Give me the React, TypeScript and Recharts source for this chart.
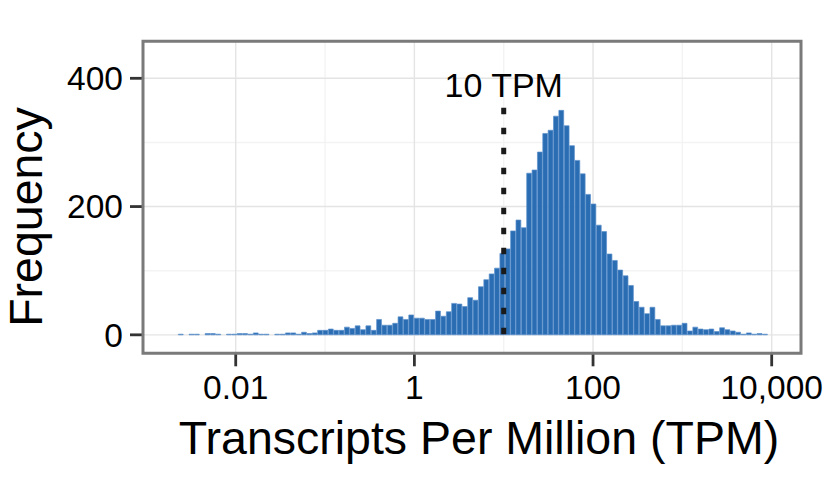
import { ComposedChart, Bar, XAxis, YAxis, CartesianGrid, ReferenceLine, ReferenceArea, Label } from 'recharts'

// histogram of log10(TPM); bins are 0.06 decades wide
const binStart = -2.6425
const binWidth = 0.06

const counts = [
  1, 0, 1, 1, 0, 2, 2, 1, 0, 1, 1, 2, 2, 1, 3, 1, 1, 0, 1, 1, 3,
  3, 1, 4, 2, 3, 7, 7, 9, 7, 7, 12, 10, 14, 8, 14, 7,
  24, 15, 15, 18, 28, 24, 31, 26, 26, 24, 24, 37, 29, 36, 49, 48, 44, 58, 54, 75, 86, 95, 104,
  127, 134, 162, 179, 167, 252, 257, 285, 314, 319, 341, 350, 326, 295, 272, 251, 219, 204, 171, 161, 126, 116, 101,
  92, 77, 52, 43, 33, 43, 24, 14, 14, 15, 15, 18, 6, 12, 9, 8,
  9, 5, 11, 8, 6, 4, 1, 3, 1, 2, 1,
]

const xTicks = [-2, 0, 2, 4]
const xTickLabels = ['0.01', '1', '100', '10,000']
const xMinorTicks = [-1, 1, 3]
const yTicks = [0, 200, 400]
const yMinorTicks = [100, 300]

const cutoff = 1 // log10(10)
const cutoffTop = 354
const cutoffLabel = '10 TPM'

const data = counts.map((count, i) => ({ x: binStart + binWidth * (i + 0.5), count }))

const W = 828
const H = 479
const plotLeft = 143
const plotRight = 801
const plotTop = 41.3
const plotBottom = 353.3
const xDomain: [number, number] = [-3.038, 4.328]
const yDomain: [number, number] = [-28.8, 457.7]
const yAxisWidth = 60
const xAxisHeight = 40
const font = '"Liberation Sans", Arial, Helvetica, sans-serif'
const barPx = (binWidth * (plotRight - plotLeft)) / (xDomain[1] - xDomain[0])

function XTitle() {
  return (
    <text x={(plotLeft + plotRight) / 2 + 7} y={454} textAnchor="middle" fontSize={46.5} fontFamily={font} fill="#000">
      Transcripts Per Million (TPM)
    </text>
  )
}

function YTitle() {
  return (
    <text x={42} y={217} transform="rotate(-90 42 217)" textAnchor="middle" fontSize={46.5} fontFamily={font} fill="#000">
      Frequency
    </text>
  )
}

export default function App() {
  return (
    <div style={{ position: 'absolute', left: 0, top: 0, width: W, height: H, background: '#fff' }}>
      <ComposedChart
        width={W}
        height={H}
        data={data}
        margin={{ top: plotTop, right: W - plotRight, bottom: H - plotBottom - xAxisHeight, left: plotLeft - yAxisWidth }}
      >
        <CartesianGrid stroke="#f3f3f3" strokeWidth={1.4} verticalValues={xMinorTicks} horizontalValues={yMinorTicks} />
        <CartesianGrid stroke="#e4e4e4" strokeWidth={1.4} verticalValues={xTicks} horizontalValues={yTicks} />
        <XAxis
          type="number"
          dataKey="x"
          domain={xDomain}
          ticks={xTicks}
          interval={0}
          allowDataOverflow
          tickFormatter={(v: number) => xTickLabels[xTicks.indexOf(v)] ?? ''}
          height={xAxisHeight}
          axisLine={false}
          tickSize={13}
          tickMargin={9}
          tickLine={{ stroke: '#333', strokeWidth: 2.8 }}
          tick={{ fill: '#000', fontSize: 33.5, fontFamily: font }}
        >
          <Label content={XTitle} />
        </XAxis>
        <YAxis
          type="number"
          domain={yDomain}
          ticks={yTicks}
          interval={0}
          allowDataOverflow
          width={yAxisWidth}
          axisLine={false}
          tickSize={13}
          tickMargin={7}
          tickLine={{ stroke: '#333', strokeWidth: 2.8 }}
          tick={{ fill: '#000', fontSize: 33.5, fontFamily: font }}
        >
          <Label content={YTitle} />
        </YAxis>
        <Bar dataKey="count" fill="#2a6db3" stroke="#5d90cc" strokeWidth={0.7} barSize={barPx} isAnimationActive={false} />
        <ReferenceLine
          segment={[{ x: cutoff, y: cutoffTop }, { x: cutoff, y: 0 }]}
          stroke="#1a1a1a"
          strokeWidth={5}
          strokeDasharray="6.5 13.5"
          zIndex={1000}
          label={{ value: cutoffLabel, position: 'top', offset: 11, fill: '#000', fontSize: 34, fontFamily: font }}
        />
        <ReferenceArea
          x1={xDomain[0]}
          x2={xDomain[1]}
          y1={yDomain[0]}
          y2={yDomain[1]}
          fill="none"
          fillOpacity={0}
          stroke="#7a7a7a"
          strokeWidth={3}
          ifOverflow="visible"
          zIndex={1100}
        />
      </ComposedChart>
    </div>
  )
}
